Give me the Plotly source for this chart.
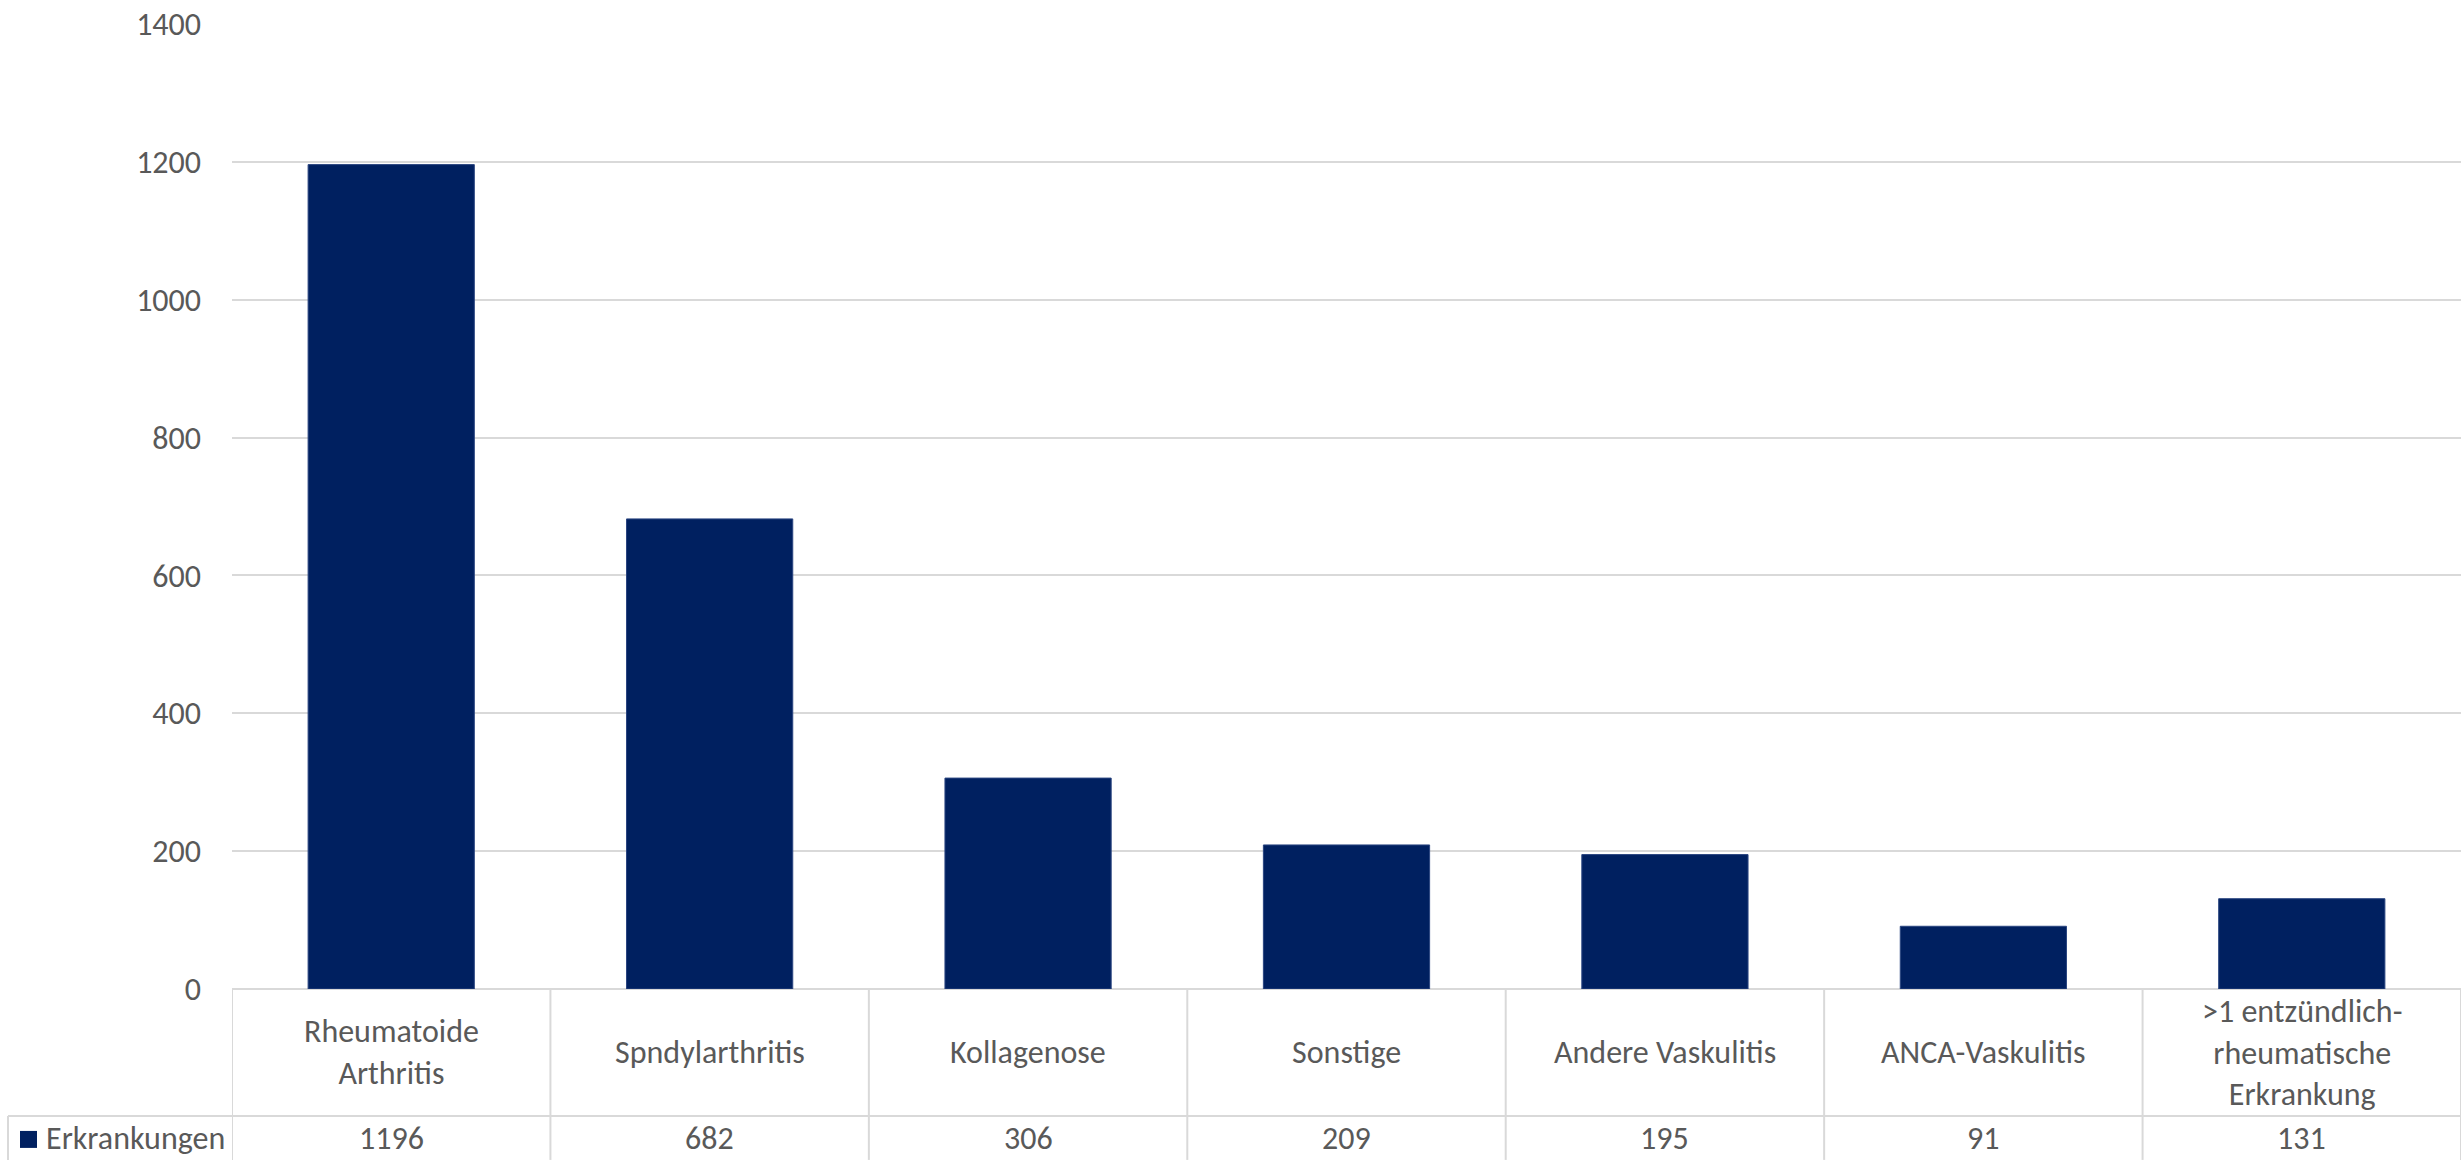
import plotly.graph_objects as go

categories = ["Rheumatoide<br>Arthritis", "Spndylarthritis", "Kollagenose", "Sonstige",
              "Andere Vaskulitis", "ANCA-Vaskulitis",
              ">1 entzündlich-<br>rheumatische<br>Erkrankung"]
values = [1196, 682, 306, 209, 195, 91, 131]
series_name = "Erkrankungen"
y_ticks = [0, 200, 400, 600, 800, 1000, 1200, 1400]

W, H = 2461, 1160
ML, MT, MB = 232, 23.5, 171
plot_h = H - MT - MB
plot_w = W - ML
FONT = "Carlito, Calibri, Lato, sans-serif"
FS = 32
TXT = "#595959"
LINE = "#d9d9d9"
BAR = "#002060"

def py(px):
    return (H - MB - px) / plot_h

def pxx(px):
    return (px - ML) / plot_w

x_idx = list(range(len(categories)))

fig = go.Figure()
fig.add_trace(go.Bar(x=x_idx, y=values, name=series_name,
                     marker=dict(color=BAR, line=dict(color="#2a4580", width=1)),
                     showlegend=False))

fig.update_layout(
    width=W, height=H,
    margin=dict(l=ML, r=0, t=MT, b=MB, autoexpand=False),
    paper_bgcolor="white", plot_bgcolor="white",
    bargap=0.478,
    font=dict(family=FONT, size=FS, color=TXT),
    xaxis=dict(range=[-0.5, len(categories) - 0.5], showticklabels=False,
               showgrid=False, zeroline=False, showline=False, ticks=""),
    yaxis=dict(range=[0, 1400], tickvals=y_ticks, showgrid=True, gridcolor=LINE,
               gridwidth=2, zeroline=True, zerolinecolor=LINE, zerolinewidth=2,
               showline=False, ticks="", ticklabelstandoff=30, automargin=False,
               tickfont=dict(family=FONT, size=FS, color=TXT)),
)

y_top = 0
y_mid = py(1116)
y_bot = py(H)

shapes = []
for i in range(len(categories) + 1):
    shapes.append(dict(type="line", xref="x", yref="paper", x0=i - 0.5, x1=i - 0.5,
                       y0=y_top, y1=y_bot, line=dict(color=LINE, width=2)))
shapes.append(dict(type="line", xref="paper", yref="paper", x0=pxx(8), x1=1,
                   y0=y_mid, y1=y_mid, line=dict(color=LINE, width=2)))
shapes.append(dict(type="line", xref="paper", yref="paper", x0=pxx(8), x1=pxx(8),
                   y0=y_mid, y1=y_bot, line=dict(color=LINE, width=2)))
shapes.append(dict(type="rect", xref="paper", yref="paper", x0=pxx(20), x1=pxx(37),
                   y0=py(1148), y1=py(1131), fillcolor=BAR, line=dict(width=0)))
fig.update_layout(shapes=shapes)

annotations = []
for i, (c, v) in enumerate(zip(categories, values)):
    annotations.append(dict(x=i, y=py(1053), xref="x", yref="paper", text=c,
                            showarrow=False, xanchor="center", yanchor="middle",
                            font=dict(family=FONT, size=FS, color=TXT)))
    annotations.append(dict(x=i, y=py(1139), xref="x", yref="paper", text=str(v),
                            showarrow=False, xanchor="center", yanchor="middle",
                            font=dict(family=FONT, size=FS, color=TXT)))
annotations.append(dict(x=pxx(44), y=py(1139), xref="paper", yref="paper",
                        text=series_name, showarrow=False, xanchor="left",
                        yanchor="middle", font=dict(family=FONT, size=FS, color=TXT)))
fig.update_layout(annotations=annotations)

fig.write_html("out.html", config={"displayModeBar": False},
               post_script="document.body.style.margin='0';document.body.style.overflow='hidden';")
